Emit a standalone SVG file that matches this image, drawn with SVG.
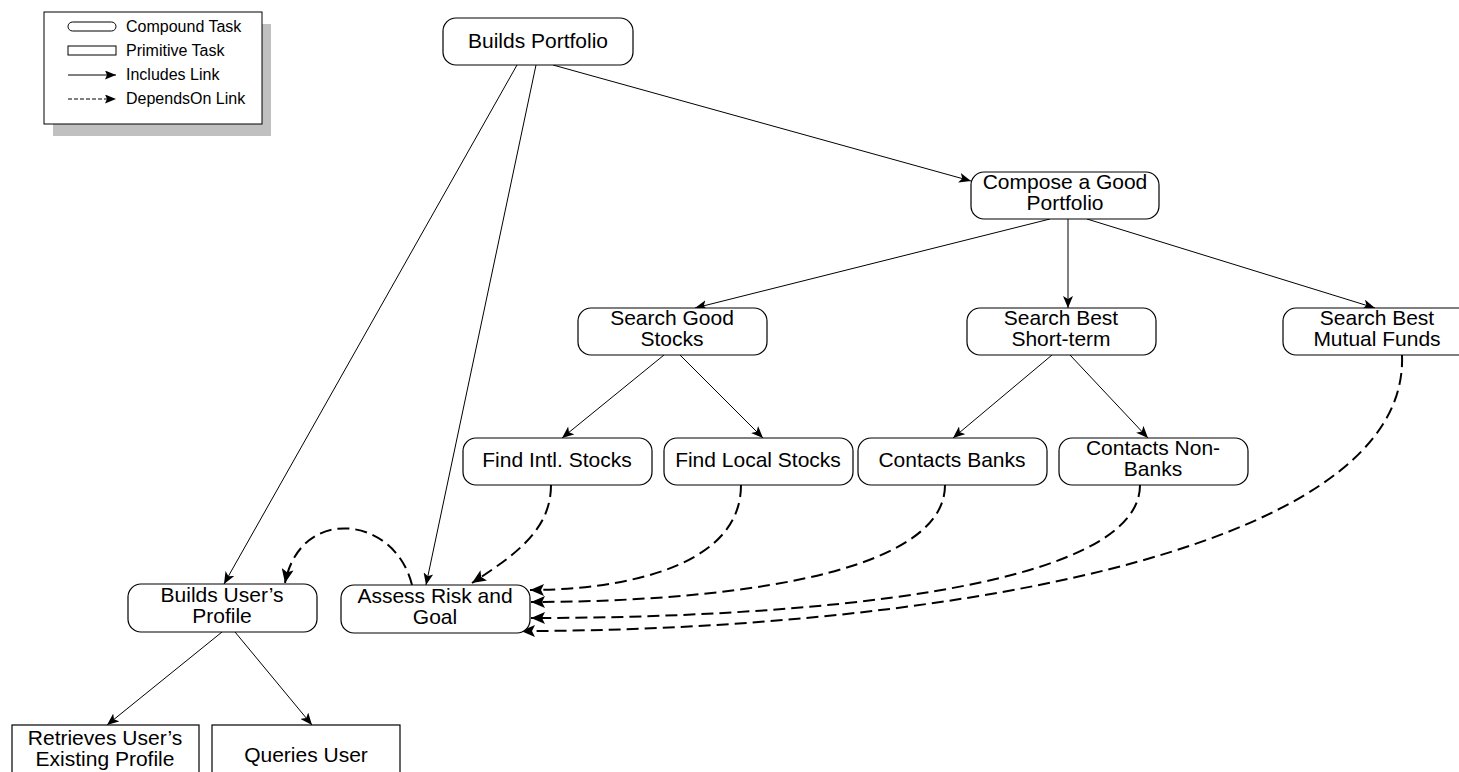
<svg xmlns="http://www.w3.org/2000/svg" width="1459" height="772" viewBox="0 0 1459 772">
  <style>
    .task { fill: #ffffff; stroke: #000000; stroke-width: 1.2; }
    .label { font-family: "Liberation Sans", Arial, sans-serif; font-size: 21px; fill: #000000; text-anchor: middle; }
    .legend-text { font-family: "Liberation Sans", Arial, sans-serif; font-size: 16px; fill: #000000; }
    .includes { fill: none; stroke: #000000; stroke-width: 1; marker-end: url(#arrow); }
    .depends { fill: none; stroke: #000000; stroke-width: 2; stroke-dasharray: 12 6; marker-end: url(#arrowBold); }
  </style>
  <defs>
    <marker id="arrow" viewBox="0 0 12 10" refX="12" refY="5" markerWidth="12" markerHeight="10" orient="auto" markerUnits="userSpaceOnUse">
      <path d="M0,0 L12,5 L0,10 L3,5 z" fill="#000000"/>
    </marker>
    <marker id="arrowBold" viewBox="0 0 14 12" refX="14" refY="6" markerWidth="14" markerHeight="12" orient="auto" markerUnits="userSpaceOnUse">
      <path d="M0,0 L14,6 L0,12 L3,6 z" fill="#000000"/>
    </marker>
    <marker id="arrowSmall" viewBox="0 0 11 9" refX="11" refY="4.5" markerWidth="11" markerHeight="9" orient="auto" markerUnits="userSpaceOnUse">
      <path d="M0,0 L11,4.5 L0,9 L2,4.5 z" fill="#000000"/>
    </marker>
  </defs>

  <rect width="1459" height="772" fill="#ffffff"/>

  <!-- Legend -->
  <g id="legend">
    <rect x="53" y="24" width="218" height="112" fill="#c0c0c0"/>
    <rect x="44" y="12" width="218" height="112" fill="#ffffff" stroke="#000000" stroke-width="1"/>
    <rect x="68" y="22" width="48" height="9" rx="4.5" fill="#ffffff" stroke="#000000" stroke-width="1"/>
    <text class="legend-text" x="126" y="32">Compound Task</text>
    <rect x="68" y="46" width="48" height="9" fill="#ffffff" stroke="#000000" stroke-width="1"/>
    <text class="legend-text" x="126" y="56">Primitive Task</text>
    <line x1="68" y1="75" x2="116" y2="75" stroke="#000000" stroke-width="1" marker-end="url(#arrowSmall)"/>
    <text class="legend-text" x="126" y="80">Includes Link</text>
    <line x1="68" y1="99" x2="116" y2="99" stroke="#000000" stroke-width="1" stroke-dasharray="4 2" marker-end="url(#arrowSmall)"/>
    <text class="legend-text" x="126" y="104">DependsOn Link</text>
  </g>

  <!-- Connectors -->
  <g id="connectors">
    <path class="includes" d="M517,65 L224,584"/>
    <path class="includes" d="M536,65 L426,585"/>
    <path class="includes" d="M553,65 L971,181"/>
    <path class="includes" d="M1050,219 L695,308"/>
    <path class="includes" d="M1068,219 L1068,308"/>
    <path class="includes" d="M1087,219 L1375,308"/>
    <path class="includes" d="M664,355 L562,438"/>
    <path class="includes" d="M680,355 L763,438"/>
    <path class="includes" d="M1052,355 L953,438"/>
    <path class="includes" d="M1070,355 L1148,438"/>
    <path class="includes" d="M222,632 L107,725"/>
    <path class="includes" d="M235,632 L312,725"/>

    <path class="depends" d="M412,585 C395,515 300,505 285,583"/>
    <path class="depends" d="M551,485 C551,530 515,555 472,583"/>
    <path class="depends" d="M741,485 C741,575 600,590 530,590"/>
    <path class="depends" d="M945,485 C945,580 700,602 531,602"/>
    <path class="depends" d="M1140,485 C1140,590 800,618 531,618"/>
    <path class="depends" d="M1402,355 C1410,560 900,631 521,631"/>
  </g>

  <!-- Compound tasks -->
  <g id="builds-portfolio">
    <rect class="task" x="443" y="18" width="190" height="47" rx="13"/>
    <text class="label" x="538" y="48">Builds Portfolio</text>
  </g>
  <g id="compose-portfolio">
    <rect class="task" x="971" y="172" width="188" height="47" rx="13"/>
    <text class="label" x="1065" y="189">Compose a Good</text>
    <text class="label" x="1065" y="210">Portfolio</text>
  </g>
  <g id="search-stocks">
    <rect class="task" x="578" y="308" width="189" height="47" rx="13"/>
    <text class="label" x="672" y="325">Search Good</text>
    <text class="label" x="672" y="346">Stocks</text>
  </g>
  <g id="search-short-term">
    <rect class="task" x="967" y="308" width="189" height="47" rx="13"/>
    <text class="label" x="1061" y="325">Search Best</text>
    <text class="label" x="1061" y="346">Short-term</text>
  </g>
  <g id="search-mutual-funds">
    <rect class="task" x="1283" y="308" width="189" height="47" rx="13"/>
    <text class="label" x="1377" y="325">Search Best</text>
    <text class="label" x="1377" y="346">Mutual Funds</text>
  </g>
  <g id="find-intl-stocks">
    <rect class="task" x="463" y="438" width="189" height="47" rx="13"/>
    <text class="label" x="557" y="467">Find Intl. Stocks</text>
  </g>
  <g id="find-local-stocks">
    <rect class="task" x="664" y="438" width="189" height="47" rx="13"/>
    <text class="label" x="758" y="467">Find Local Stocks</text>
  </g>
  <g id="contacts-banks">
    <rect class="task" x="858" y="438" width="189" height="47" rx="13"/>
    <text class="label" x="952" y="467">Contacts Banks</text>
  </g>
  <g id="contacts-non-banks">
    <rect class="task" x="1059" y="438" width="189" height="47" rx="13"/>
    <text class="label" x="1153" y="455">Contacts Non-</text>
    <text class="label" x="1153" y="476">Banks</text>
  </g>
  <g id="builds-user-profile">
    <rect class="task" x="128" y="584" width="189" height="48" rx="13"/>
    <text class="label" x="222" y="602">Builds User’s</text>
    <text class="label" x="222" y="623">Profile</text>
  </g>
  <g id="assess-risk-goal">
    <rect class="task" x="341" y="585" width="189" height="48" rx="13"/>
    <text class="label" x="435" y="603">Assess Risk and</text>
    <text class="label" x="435" y="624">Goal</text>
  </g>

  <!-- Primitive tasks -->
  <g id="retrieves-profile">
    <rect class="task" x="12" y="725" width="187" height="62"/>
    <text class="label" x="105" y="745">Retrieves User’s</text>
    <text class="label" x="105" y="766">Existing Profile</text>
  </g>
  <g id="queries-user">
    <rect class="task" x="212" y="725" width="188" height="62"/>
    <text class="label" x="306" y="762">Queries User</text>
  </g>
</svg>
